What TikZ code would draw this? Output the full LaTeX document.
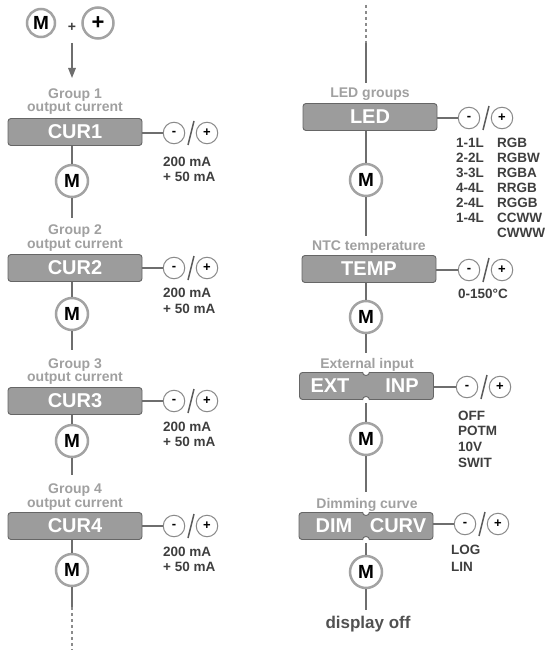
\documentclass[tikz,border=0pt]{standalone}
\usepackage{fontspec}
\setmainfont{Liberation Sans}
\usetikzlibrary{arrows.meta}
\definecolor{boxfill}{HTML}{9C9C9C}
\definecolor{boxline}{HTML}{666666}
\definecolor{mcol}{HTML}{A3A3A3}
\definecolor{pmcol}{HTML}{8A8A8A}
\definecolor{wirecol}{HTML}{6E6E6E}
\definecolor{lblcol}{HTML}{A0A0A0}
\definecolor{optcol}{HTML}{3E3E3E}
\tikzset{
  cbox/.style={draw=boxline, fill=boxfill, line width=0.9pt, rounded corners=3pt,
    minimum width=134pt, minimum height=27pt, inner sep=0pt, text=white,
    font=\fontsize{20}{20}\selectfont\bfseries},
  boxtxt/.style={text=white, inner sep=0pt, font=\fontsize{20}{20}\selectfont\bfseries},
  mcirc/.style={circle, draw=mcol, line width=2.5pt, fill=white, minimum size=32pt,
    inner sep=0pt, text=black, font=\fontsize{19}{19}\selectfont\bfseries},
  pmcirc/.style={circle, draw=pmcol, line width=1pt, fill=white, minimum size=21.5pt,
    inner sep=0pt, text=black, font=\fontsize{13}{13}\selectfont\bfseries},
  lbltxt/.style={text=lblcol, inner sep=0pt, text height=10pt, text depth=0pt,
    font=\fontsize{14}{14}\selectfont\bfseries},
  optxt/.style={text=optcol, inner sep=0pt, anchor=west, text height=9.7pt, text depth=0pt,
    font=\fontsize{13.5}{15}\selectfont\bfseries},
  wire/.style={draw=wirecol, line width=1.5pt},
  dotwire/.style={draw=wirecol!80, line width=1.5pt, dash pattern=on 3pt off 3pt},
  slash/.style={draw=optcol!85, line width=1.5pt}
}
\begin{document}
\begin{tikzpicture}[x=1pt,y=-1pt]
\useasboundingbox (0,0) rectangle (546,650);

% ---------- top: M + +
\node[mcirc, minimum size=28pt] (m0) at (41,23) {M};
\node[text=optcol, inner sep=0pt, font=\fontsize{14}{14}\selectfont\bfseries] (plus0) at (72,27) {+};
\node[mcirc, minimum size=31pt, font=\fontsize{22}{22}\selectfont\bfseries] (p0) at (98,23) {+};
\coordinate (a0) at (72,43);
\coordinate (a1) at (72,78);
\draw[wire, -{Triangle[length=10pt,width=7.5pt]}] (a0) -- (a1);

% ---------- left column
% group 1
\node[lbltxt] (g1a) at (75,94) {Group 1};
\node[lbltxt] (g1b) at (75,107) {output current};
\node[cbox] (cur1) at (75,132) {CUR1};
\node[mcirc] (m1) at (72,181) {M};
\node[pmcirc] (cur1m) at (174,133) {-};
\node[pmcirc] (cur1p) at (207,133) {+};
\node[optxt] (cur1ta) at (163,162) {200 mA};
\node[optxt] (cur1tb) at (163,177) {+ 50 mA};
\coordinate (e1) at (72,218);
% group 2
\node[lbltxt] (g2a) at (75,229) {Group 2};
\node[lbltxt] (g2b) at (75,243) {output current};
\node[cbox] (cur2) at (75,268) {CUR2};
\node[mcirc] (m2) at (72,314) {M};
\node[pmcirc] (cur2m) at (174,268) {-};
\node[pmcirc] (cur2p) at (207,268) {+};
\node[optxt] (cur2ta) at (163,293) {200 mA};
\node[optxt] (cur2tb) at (163,309) {+ 50 mA};
\coordinate (e2) at (72,350);
% group 3
\node[lbltxt] (g3a) at (75,363) {Group 3};
\node[lbltxt] (g3b) at (75,376) {output current};
\node[cbox] (cur3) at (75,401) {CUR3};
\node[mcirc] (m3) at (72,441) {M};
\node[pmcirc] (cur3m) at (174,401) {-};
\node[pmcirc] (cur3p) at (207,401) {+};
\node[optxt] (cur3ta) at (163,427) {200 mA};
\node[optxt] (cur3tb) at (163,442) {+ 50 mA};
\coordinate (e3) at (72,475);
% group 4
\node[lbltxt] (g4a) at (75,488) {Group 4};
\node[lbltxt] (g4b) at (75,502) {output current};
\node[cbox] (cur4) at (75,526) {CUR4};
\node[mcirc] (m4) at (72,570) {M};
\node[pmcirc] (cur4m) at (174,526) {-};
\node[pmcirc] (cur4p) at (207,526) {+};
\node[optxt] (cur4ta) at (163,552) {200 mA};
\node[optxt] (cur4tb) at (163,567) {+ 50 mA};
\coordinate (e4) at (72,607);
\coordinate (e5) at (72,650);

\foreach \i in {1,2,3,4}{
  \draw[wire] (cur\i.south -| m\i) -- (m\i);
  \draw[wire] (cur\i.east |- cur\i m) -- (cur\i m);
  \draw[slash] ([shift={(14pt,-12pt)}]cur\i m.center) -- ([shift={(-13pt,12pt)}]cur\i p.center);
}
\draw[wire] (m1) -- (e1);
\draw[wire] (m2) -- (e2);
\draw[wire] (m3) -- (e3);
\draw[wire] (m4) -- (e4);
\draw[dotwire] (e4) -- (e5);

% ---------- right column
\coordinate (r0) at (366,5);
\coordinate (r1) at (366,43);
\coordinate (r2) at (366,83);
\draw[dotwire] (r0) -- (r1);
\draw[wire] (r1) -- (r2);

% LED
\node[lbltxt] (ledl) at (370,93) {LED groups};
\node[cbox] (led) at (370,117) {LED};
\node[mcirc] (mled) at (366,180) {M};
\node[pmcirc] (ledm) at (469,118) {-};
\node[pmcirc] (ledp) at (502,118) {+};
\node[optxt] (leda1) at (456,143) {1-1L};
\node[optxt] (ledb1) at (497,143) {RGB};
\node[optxt] (leda2) at (456,158) {2-2L};
\node[optxt] (ledb2) at (497,158) {RGBW};
\node[optxt] (leda3) at (456,173) {3-3L};
\node[optxt] (ledb3) at (497,173) {RGBA};
\node[optxt] (leda4) at (456,188) {4-4L};
\node[optxt] (ledb4) at (497,188) {RRGB};
\node[optxt] (leda5) at (456,203) {2-4L};
\node[optxt] (ledb5) at (497,203) {RGGB};
\node[optxt] (leda6) at (456,218) {1-4L};
\node[optxt] (ledb6) at (497,218) {CCWW};
\node[optxt] (ledb7) at (497,233) {CWWW};
\coordinate (f1) at (366,236);

% TEMP
\node[lbltxt] (templ) at (369,245) {NTC temperature};
\node[cbox] (temp) at (369,269) {TEMP};
\node[mcirc] (mtemp) at (366,317) {M};
\node[pmcirc] (tempm) at (469,270) {-};
\node[pmcirc] (tempp) at (502,270) {+};
\node[optxt] (tempt) at (458,294) {0-150°C};
\coordinate (f2) at (366,353);

% EXT INP
\node[lbltxt] (extl) at (367,363) {External input};
\node[cbox] (ext) at (366.5,386) {};
\node[boxtxt] (extt1) at (330,386) {EXT};
\node[boxtxt] (extt2) at (402,386) {INP};
\node[mcirc] (mext) at (366,439) {M};
\node[pmcirc] (extm) at (467,387) {-};
\node[pmcirc] (extp) at (500,387) {+};
\node[optxt] (ext1) at (458,416) {OFF};
\node[optxt] (ext2) at (458,431) {POTM};
\node[optxt] (ext3) at (458,447) {10V};
\node[optxt] (ext4) at (458,463) {SWIT};
\coordinate (f3) at (366,492);

% DIM CURV
\node[lbltxt] (diml) at (367,503) {Dimming curve};
\node[cbox] (dim) at (366,526) {};
\node[boxtxt] (dimt1) at (334,526) {DIM};
\node[boxtxt] (dimt2) at (398,526) {CURV};
\node[mcirc] (mdim) at (366,572) {M};
\node[pmcirc] (dimm) at (465,524) {-};
\node[pmcirc] (dimp) at (498,524) {+};
\node[optxt] (dim1) at (451,550) {LOG};
\node[optxt] (dim2) at (451,567) {LIN};
\coordinate (f4) at (366,610);
\node[text=optcol!90, inner sep=0pt, font=\fontsize{17}{17}\selectfont\bfseries] (doff) at (368,624) {display off};

% notches
\foreach \b in {ext,dim}{
  \fill[white] (\b.north -| mext) circle[radius=3.5pt];
  \draw[draw=boxline, line width=0.9pt] ([shift={(180:3.5pt)}]\b.north -| mext) arc[start angle=180, end angle=360, radius=3.5pt];
  \fill[white] (\b.south -| mext) circle[radius=3.5pt];
  \draw[draw=boxline, line width=0.9pt] ([shift={(180:3.5pt)}]\b.south -| mext) arc[start angle=180, end angle=0, radius=3.5pt];
}

% right wires
\draw[wire] (led.south -| mled) -- (mled);
\draw[wire] (mled) -- (f1);
\draw[wire] (temp.south -| mtemp) -- (mtemp);
\draw[wire] (mtemp) -- (f2);
\draw[wire] ([yshift=-3.5pt]ext.south -| mext) -- (mext);
\draw[wire] (mext) -- (f3);
\draw[wire] ([yshift=-3.5pt]dim.south -| mdim) -- (mdim);
\draw[wire] (mdim) -- (f4);
\foreach \b in {led,temp,ext,dim}{
  \draw[wire] (\b.east |- \b m) -- (\b m);
  \draw[slash] ([shift={(14pt,-12pt)}]\b m.center) -- ([shift={(-13pt,12pt)}]\b p.center);
}
\end{tikzpicture}
\end{document}
